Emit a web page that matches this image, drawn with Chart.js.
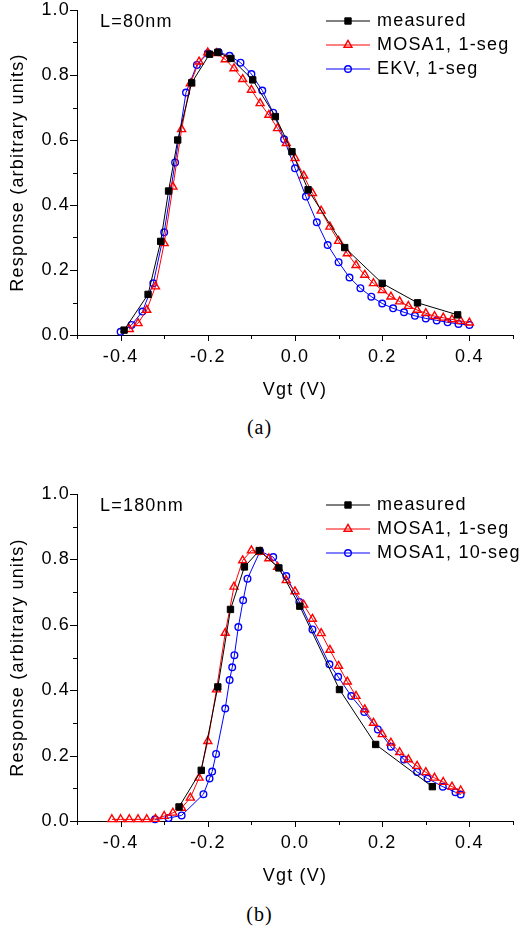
<!DOCTYPE html>
<html>
<head>
<meta charset="utf-8">
<script src="https://cdn.jsdelivr.net/npm/chart.js@4.4.1/dist/chart.umd.min.js"></script>
<style>
  body { margin: 0; background: #fff; width: 519px; height: 930px; position: relative; overflow: hidden; }
  canvas { position: absolute; left: 0; }
  .cap { position: absolute; left: 0; width: 519px; text-align: center; font: 20px "Liberation Serif", "Times New Roman", serif; letter-spacing: 1px; color: #000; line-height: 23px; }
</style>
</head>
<body>
<canvas id="chartA" width="519" height="402" style="top:0px"></canvas>
<div class="cap" style="top:416px">(a)</div>
<canvas id="chartB" width="519" height="404" style="top:484px"></canvas>
<div class="cap" style="top:903px">(b)</div>
<script>
// ---- data ----
// (a) L=80nm
var measured80X = [-0.392, -0.337, -0.308, -0.290, -0.269, -0.237, -0.196, -0.177, -0.147, -0.097, -0.045, -0.007, 0.030, 0.114, 0.200, 0.281, 0.373];
var measured80Y = [0.015, 0.125, 0.288, 0.443, 0.600, 0.776, 0.864, 0.870, 0.851, 0.785, 0.672, 0.564, 0.447, 0.269, 0.159, 0.099, 0.062];

var mosa80X = [-0.38, -0.36, -0.34, -0.32, -0.30, -0.28, -0.26, -0.24, -0.22, -0.20, -0.18, -0.16, -0.14, -0.12, -0.10, -0.08, -0.06, -0.04, -0.02, 0.00,
               0.02, 0.04, 0.06, 0.08, 0.10, 0.12, 0.14, 0.16, 0.18, 0.20, 0.22, 0.24, 0.26, 0.28, 0.30, 0.32, 0.34, 0.36, 0.38, 0.40];
var mosa80Y = [0.018, 0.036, 0.077, 0.149, 0.282, 0.456, 0.633, 0.774, 0.841, 0.869, 0.867, 0.848, 0.820, 0.787, 0.754, 0.713, 0.677, 0.636, 0.590, 0.544,
               0.490, 0.436, 0.382, 0.333, 0.289, 0.251, 0.215, 0.185, 0.159, 0.138, 0.118, 0.103, 0.089, 0.077, 0.067, 0.058, 0.053, 0.048, 0.043, 0.038];

var ekv80X = [-0.400, -0.375, -0.350, -0.325, -0.300, -0.275, -0.250, -0.225, -0.200, -0.175, -0.150, -0.125, -0.100, -0.075, -0.050, -0.025, 0.000,
              0.025, 0.050, 0.075, 0.100, 0.125, 0.150, 0.175, 0.200, 0.225, 0.250, 0.275, 0.300, 0.325, 0.350, 0.375, 0.400];
var ekv80Y = [0.010, 0.031, 0.072, 0.159, 0.316, 0.531, 0.746, 0.831, 0.867, 0.870, 0.859, 0.838, 0.803, 0.752, 0.684, 0.602, 0.513,
              0.426, 0.347, 0.277, 0.224, 0.177, 0.144, 0.118, 0.097, 0.082, 0.070, 0.059, 0.051, 0.045, 0.039, 0.034, 0.031];

// (b) L=180nm
var measured180X = [-0.266, -0.215, -0.177, -0.148, -0.116, -0.082, -0.037, 0.011, 0.102, 0.185, 0.315];
var measured180Y = [0.043, 0.155, 0.410, 0.647, 0.777, 0.827, 0.774, 0.657, 0.402, 0.234, 0.105];

var mosa180X = [-0.42, -0.40, -0.38, -0.36, -0.34, -0.32, -0.30, -0.28, -0.26, -0.24, -0.22, -0.20, -0.18, -0.16, -0.14, -0.12, -0.10, -0.08, -0.06, -0.04, -0.02,
                0.00, 0.02, 0.04, 0.06, 0.08, 0.10, 0.12, 0.14, 0.16, 0.18, 0.20, 0.22, 0.24, 0.26, 0.28, 0.30, 0.32, 0.34, 0.36, 0.38];
var mosa180Y = [0.005, 0.005, 0.005, 0.005, 0.005, 0.006, 0.015, 0.025, 0.040, 0.071, 0.132, 0.244, 0.402, 0.575, 0.716, 0.797, 0.827, 0.823, 0.803, 0.777, 0.736,
                0.702, 0.661, 0.618, 0.574, 0.523, 0.474, 0.426, 0.382, 0.341, 0.300, 0.265, 0.239, 0.210, 0.188, 0.168, 0.149, 0.132, 0.119, 0.105, 0.093];

var seg180X = [-0.321, -0.290, -0.260, -0.210, -0.196, -0.190, -0.181, -0.160, -0.150, -0.144, -0.139, -0.130, -0.119, -0.109, -0.080, -0.050, -0.020,
               0.010, 0.040, 0.079, 0.099, 0.129, 0.159, 0.190, 0.220, 0.250, 0.280, 0.304, 0.339, 0.368, 0.380];
var seg180Y = [0.005, 0.009, 0.017, 0.082, 0.130, 0.151, 0.205, 0.344, 0.431, 0.470, 0.507, 0.593, 0.675, 0.741, 0.825, 0.807, 0.749,
               0.670, 0.586, 0.479, 0.441, 0.382, 0.333, 0.280, 0.227, 0.188, 0.150, 0.130, 0.105, 0.088, 0.081];

var xLabel = 'Vgt (V)';
var yLabel = 'Response (arbitrary units)';

// ---- chart setup ----
const FONT = '"Liberation Sans", Arial, sans-serif';
const FONT_SIZE = 18;
const SPACING = '1.2px'; // the figure's lettering runs a bit wide
Chart.defaults.font.family = FONT;
Chart.defaults.font.size = FONT_SIZE;
Chart.defaults.color = '#000';

function pts(xs, ys) {
  return xs.map(function (x, i) { return { x: x, y: ys[i] }; });
}
function isMajor(v) { return Math.round(v * 10) % 2 === 0; }
function tickText(v) { return isMajor(v) ? (Math.round(v * 10) / 10).toFixed(1) : ''; }

// keep the wider letter spacing on the canvas (resizing resets ctx state)
const wideText = {
  id: 'wideText',
  afterInit(chart) { chart.ctx.letterSpacing = SPACING; },
  beforeUpdate(chart) { chart.ctx.letterSpacing = SPACING; },
  beforeDraw(chart) { chart.ctx.letterSpacing = SPACING; }
};

// tick marks, long on labelled values and short in between
const axisTicks = {
  id: 'axisTicks',
  afterDraw(chart) {
    const ctx = chart.ctx, area = chart.chartArea;
    const xs = chart.scales.x, ys = chart.scales.y;
    ctx.save();
    ctx.strokeStyle = '#000';
    ctx.lineWidth = 1;
    ctx.beginPath();
    xs.ticks.forEach(function (t) {
      const px = Math.round(xs.getPixelForValue(t.value)) + 0.5;
      ctx.moveTo(px, area.bottom);
      ctx.lineTo(px, area.bottom + (isMajor(t.value) ? 6 : 4));
    });
    ys.ticks.forEach(function (t) {
      const py = Math.round(ys.getPixelForValue(t.value)) + 0.5;
      ctx.moveTo(area.left, py);
      ctx.lineTo(area.left - (isMajor(t.value) ? 7 : 4), py);
    });
    ctx.stroke();
    ctx.restore();
  }
};

// legend in the top right corner + the L= note
const sideLegend = {
  id: 'sideLegend',
  afterDraw(chart, args, opts) {
    const ctx = chart.ctx;
    ctx.save();
    chart.data.datasets.forEach(function (ds, i) {
      const y = opts.rows[i];
      ctx.strokeStyle = ds.borderColor;
      ctx.lineWidth = 1;
      ctx.beginPath();
      ctx.moveTo(326, y);
      ctx.lineTo(370, y);
      ctx.stroke();
      ctx.fillStyle = ds.pointBackgroundColor;
      ctx.strokeStyle = ds.pointBorderColor;
      ctx.lineWidth = ds.pointBorderWidth;
      Chart.helpers.drawPoint(ctx, {
        pointStyle: ds.pointStyle, radius: ds.pointRadius, rotation: 0, borderWidth: ds.pointBorderWidth
      }, 348, y);
      ctx.fillStyle = '#000';
      ctx.font = FONT_SIZE + 'px ' + FONT;
      ctx.textAlign = 'left';
      ctx.textBaseline = 'middle';
      ctx.fillText(ds.label, 377, y);
    });
    ctx.fillText(opts.note, 100, opts.noteY);
    ctx.restore();
  }
};

function series(label, data, kind) {
  const ds = { label: label, data: data, showLine: true, tension: 0, borderWidth: 1, clip: false };
  if (kind === 'measured') {
    ds.borderColor = '#000000';
    ds.pointStyle = 'rect';
    ds.pointRadius = 4.5;
    ds.pointBackgroundColor = '#000000';
    ds.pointBorderColor = '#000000';
    ds.pointBorderWidth = 1;
  } else if (kind === 'red') {
    ds.borderColor = '#ff0000';
    ds.pointStyle = 'triangle';
    ds.pointRadius = 4.6;
    ds.pointBackgroundColor = 'rgba(255,255,255,0)';
    ds.pointBorderColor = '#ff0000';
    ds.pointBorderWidth = 1.4;
  } else {
    ds.borderColor = '#0000ff';
    ds.pointStyle = 'circle';
    ds.pointRadius = 3.3;
    ds.pointBackgroundColor = 'rgba(255,255,255,0)';
    ds.pointBorderColor = '#0000ff';
    ds.pointBorderWidth = 1.4;
  }
  ds.pointHoverRadius = ds.pointRadius;
  return ds;
}

function makeConfig(datasets, note) {
  return {
    type: 'scatter',
    data: { datasets: datasets },
    plugins: [wideText, axisTicks, sideLegend],
    options: {
      responsive: false,
      animation: false,
      layout: { padding: { top: 10, right: 1, left: 0, bottom: 0 } },
      plugins: {
        legend: { display: false },
        tooltip: { enabled: false },
        sideLegend: { rows: [21, 45, 69], note: note, noteY: 22 }
      },
      scales: {
        x: {
          type: 'linear', min: -0.5, max: 0.5,
          ticks: { stepSize: 0.1, padding: 11, autoSkip: false, maxRotation: 0, callback: tickText },
          grid: { display: false, drawTicks: false },
          border: { display: true, color: '#000', width: 1 },
          title: { display: true, text: xLabel, padding: { top: 0, bottom: 1.2 } },
          afterFit: function (s) { s.height = 67; s.paddingLeft = 0; s.paddingRight = 0; }
        },
        y: {
          type: 'linear', min: 0, max: 1,
          ticks: { stepSize: 0.1, padding: 7, autoSkip: false, callback: tickText },
          grid: { display: false, drawTicks: false },
          border: { display: true, color: '#000', width: 1 },
          title: { display: true, text: yLabel, padding: { top: 7.2, bottom: 0 } },
          afterFit: function (s) { s.width = 77; s.paddingTop = 0; s.paddingBottom = 0; }
        }
      }
    }
  };
}

new Chart(document.getElementById('chartA'), makeConfig([
  series('measured', pts(measured80X, measured80Y), 'measured'),
  series('MOSA1, 1-seg', pts(mosa80X, mosa80Y), 'red'),
  series('EKV, 1-seg', pts(ekv80X, ekv80Y), 'blue')
], 'L=80nm'));

new Chart(document.getElementById('chartB'), makeConfig([
  series('measured', pts(measured180X, measured180Y), 'measured'),
  series('MOSA1, 1-seg', pts(mosa180X, mosa180Y), 'red'),
  series('MOSA1, 10-seg', pts(seg180X, seg180Y), 'blue')
], 'L=180nm'));
</script>
</body>
</html>
